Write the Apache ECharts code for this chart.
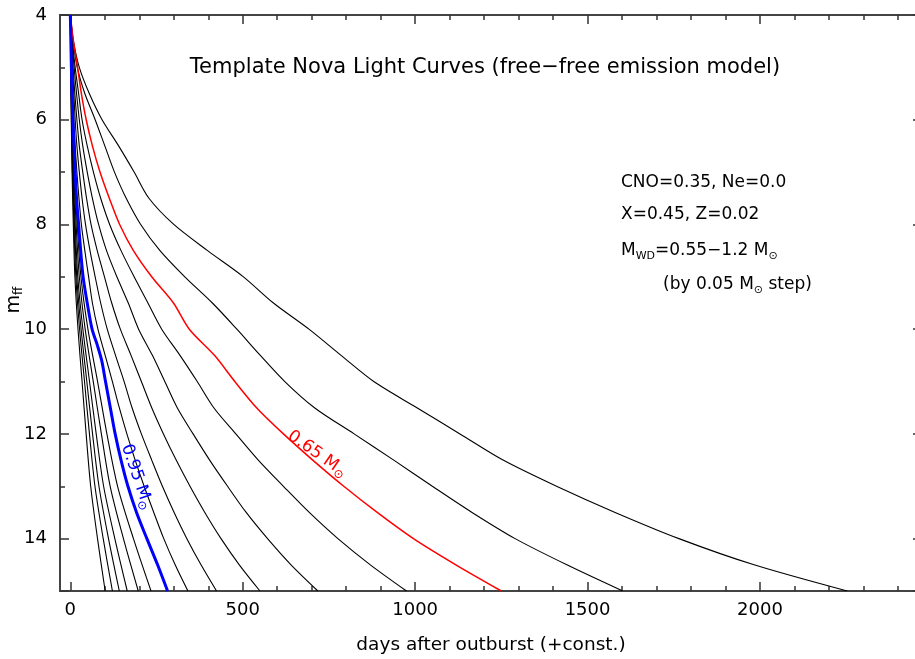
<!DOCTYPE html>
<html>
<head>
<meta charset="utf-8">
<script src="https://cdn.jsdelivr.net/npm/echarts@6/dist/echarts.min.js"></script>
<style>
  html, body { margin: 0; padding: 0; background: #fff; }
  #chart { width: 915px; height: 659px; }
</style>
</head>
<body>
<div id="chart"></div>
<script>
// Magnitude grids the light curves are sampled on
const magHalf = [4,4.5,5,5.5,6,6.5,7,7.5,8,8.5,9,9.5,10,10.5,11,11.5,12,12.5,13,13.5,14,14.5,15];
const magWhole = [4,5,6,7,8,9,10,11,12,13,14,15];

// Days after outburst at each magnitude, one array per white-dwarf mass
const d055 = [0,9,26,55,92,140,185,228,300,398,502,589,692,785,880,1005,1130,1255,1410,1580,1765,1983,2253];
const d060 = [0,8,20,42,72,100,128,162,204,260,332,412,483,551,622,708,823,938,1050,1165,1290,1440,1602];
const d065 = [0,9,21,32,46,64,86,113,143,183,236,299,345,418,477,540,618,703,793,890,995,1118,1250];
const d070 = [0,6,14,24,34,49,67,88,114,147,185,225,265,318,368,416,480,545,618,693,776,870,975];
const d075 = [0,5,11,18,26,36,49,64,82,105,135,168,198,238,274,310,356,404,456,510,572,640,718];
const d080 = [0,4,8,13,19,26,36,47,60,78,99,120,145,176,206,236,270,307,347,390,437,490,550];
const d085 = [0,3,6,10,14,19,26,34,44,57,72,88,107,131,156,179,206,236,267,301,338,379,424];
const d090 = [0,2,4,7,10,14,19,25,32,42,53,64,80,101,122,142,164,188,214,242,271,304,341];

// 0.95 Msun curve, sampled a little more finely around its shoulder near m=10.5
const m095 = [[0,4],[1.5,4.5],[3,5],[5,5.5],[7.5,6],[10.5,6.5],[14,7],[18,7.5],[24,8],[30,8.5],[37,9],[49,9.5],[63,10],[78,10.3],[91,10.6],[102,11],[116,11.5],[130,12],[147,12.5],[167,13],[192,13.5],[222,14],[253,14.5],[282,15]];

// Faster (more massive) models, sampled at whole magnitudes
const d100 = [0,2.5,6.2,11.6,20,30.7,51,79,106,137,183,234];
const d105 = [0,2.1,5.3,9.8,16.8,26,43,66.5,90,115.5,154,197];
const d110 = [0,1.8,4.4,8.2,14,21.6,36.3,55.6,75,96.5,129,165];
const d115 = [0,1.5,3.8,7,12,18.6,31.2,47.8,64.4,83,110.7,142];
const d120 = [0,1.3,3.2,6.1,10.4,16,26.8,41.1,55.4,71.4,95.3,122];
const d125 = [0,1.1,2.7,5,8.6,13.2,22.2,34,45.8,59,78.8,101];

// Axis ticks
const xMajorTicks = [0, 500, 1000, 1500, 2000];
const xMinorTicks = [100,200,300,400,600,700,800,900,1100,1200,1300,1400,1600,1700,1800,1900,2100,2200,2300,2400];

const X_MIN = -30, X_MAX = 2470;
const Y_MIN = 4, Y_MAX = 15, Y_STEP = 2;
const FONT = 'DejaVu Sans';

const pair = (days, mags) => days.map((d, i) => [d, mags[i]]);

const blackCurves = [
  pair(d055, magHalf), pair(d060, magHalf), pair(d070, magHalf), pair(d075, magHalf),
  pair(d080, magHalf), pair(d085, magHalf), pair(d090, magHalf),
  pair(d100, magWhole), pair(d105, magWhole), pair(d110, magWhole),
  pair(d115, magWhole), pair(d120, magWhole), pair(d125, magWhole)
];
const redCurve = pair(d065, magHalf);
const blueCurve = m095;

const chart = echarts.init(document.getElementById('chart'), null, { renderer: 'canvas' });

function xAxisDef(position, ticks, len, labels) {
  return {
    type: 'value', position, min: X_MIN, max: X_MAX,
    axisLine: { show: true, onZero: false, lineStyle: { color: '#444', width: 2 } },
    axisTick: { show: true, inside: true, length: len, customValues: ticks, lineStyle: { color: '#333', width: 1.5 } },
    axisLabel: labels
      ? { show: true, customValues: ticks, color: '#000', fontSize: 18, fontFamily: FONT, margin: 10,
          formatter: v => String(v) }
      : { show: false },
    splitLine: { show: false }
  };
}

function yAxisDef(position, labels) {
  return {
    type: 'value', position, inverse: true, min: Y_MIN, max: Y_MAX, interval: Y_STEP,
    axisLine: { show: true, onZero: false, lineStyle: { color: '#444', width: 2 } },
    axisTick: { show: true, inside: true, length: 9, lineStyle: { color: '#333', width: 1.5 } },
    minorTick: { show: true, splitNumber: 2, length: 5, lineStyle: { color: '#333', width: 1.5 } },
    axisLabel: labels
      ? { show: true, color: '#000', fontSize: 18, fontFamily: FONT, margin: 13, showMaxLabel: false }
      : { show: false },
    splitLine: { show: false }
  };
}

function lineSeries(data, color, width, z) {
  return {
    type: 'line', data, xAxisIndex: 0, yAxisIndex: 0,
    showSymbol: false, symbol: 'none', smooth: 0.3,
    lineStyle: { color, width }, z, silent: true, clip: true
  };
}

const series = blackCurves.map(c => lineSeries(c, '#000', 1.1, 2));
series.push(lineSeries(redCurve, '#ff0000', 1.5, 3));
series.push(lineSeries(blueCurve, '#0000ff', 3, 4));

const xBottom = xAxisDef('bottom', xMajorTicks, 9, true);
xBottom.name = 'days after outburst (+const.)';
xBottom.nameLocation = 'middle';
xBottom.nameGap = 45;
xBottom.nameTextStyle = { color: '#000', fontSize: 18.5, fontFamily: FONT };

chart.setOption({
  animation: false,
  backgroundColor: '#fff',
  grid: { left: 60, top: 15, width: 862, height: 576, containLabel: false, outerBoundsMode: 'none' },
  xAxis: [
    xBottom,
    xAxisDef('bottom', xMinorTicks, 5, false),
    xAxisDef('top', xMajorTicks, 9, false),
    xAxisDef('top', xMinorTicks, 5, false)
  ],
  yAxis: [yAxisDef('left', true), yAxisDef('right', false)],
  series
});

// Text annotations
const big = { fontSize: 17, fontFamily: FONT, fill: '#000' };
const subStyle = { fontSize: 11, fontFamily: FONT, fill: '#000', lineHeight: 10, verticalAlign: 'bottom' };
const normStyle = { fontSize: 17, fontFamily: FONT, fill: '#000', lineHeight: 22 };

function curveLabel(dataPt, text, color, angleDeg) {
  const p = chart.convertToPixel({ gridIndex: 0 }, dataPt);
  return {
    type: 'text', x: p[0], y: p[1], rotation: angleDeg * Math.PI / 180, z: 10,
    style: {
      text: '{n|' + text + ' M}{s|\u2299}', align: 'center', verticalAlign: 'middle',
      rich: {
        n: { fontSize: 17, fontFamily: FONT, fill: color, lineHeight: 22 },
        s: { fontSize: 12, fontFamily: FONT, fill: color, lineHeight: 10, verticalAlign: 'bottom' }
      }
    }
  };
}

chart.setOption({
  graphic: [
    { type: 'text', x: 485, y: 68, z: 10,
      style: { text: 'Template Nova Light Curves (free\u2212free emission model)', fontSize: 21, fontFamily: FONT, fill: '#000', align: 'center', verticalAlign: 'middle' } },
    { type: 'text', x: 621, y: 183, z: 10,
      style: Object.assign({ text: 'CNO=0.35, Ne=0.0', align: 'left', verticalAlign: 'middle' }, big) },
    { type: 'text', x: 621, y: 215, z: 10,
      style: Object.assign({ text: 'X=0.45, Z=0.02', align: 'left', verticalAlign: 'middle' }, big) },
    { type: 'text', x: 621, y: 251, z: 10,
      style: { text: '{n|M}{s|WD}{n|=0.55\u22121.2 M}{s|\u2299}', align: 'left', verticalAlign: 'middle',
               rich: { n: normStyle, s: subStyle } } },
    { type: 'text', x: 663, y: 285, z: 10,
      style: { text: '{n|(by 0.05 M}{s|\u2299}{n| step)}', align: 'left', verticalAlign: 'middle',
               rich: { n: normStyle, s: subStyle } } },
    // y-axis title: m with subscript ff, reading upwards
    { type: 'text', x: 14, y: 300, rotation: Math.PI / 2, z: 10,
      style: { text: '{m|m}{s|ff}', align: 'center', verticalAlign: 'middle',
               rich: {
                 m: { fontSize: 19, fontFamily: FONT, fill: '#000', lineHeight: 22 },
                 s: { fontSize: 12, fontFamily: FONT, fill: '#000', lineHeight: 10, verticalAlign: 'bottom' }
               } } },
    curveLabel([716, 12.38], '0.65', '#ff0000', -35),
    curveLabel([193, 12.82], '0.95', '#0000ff', -71)
  ]
});
</script>
</body>
</html>
